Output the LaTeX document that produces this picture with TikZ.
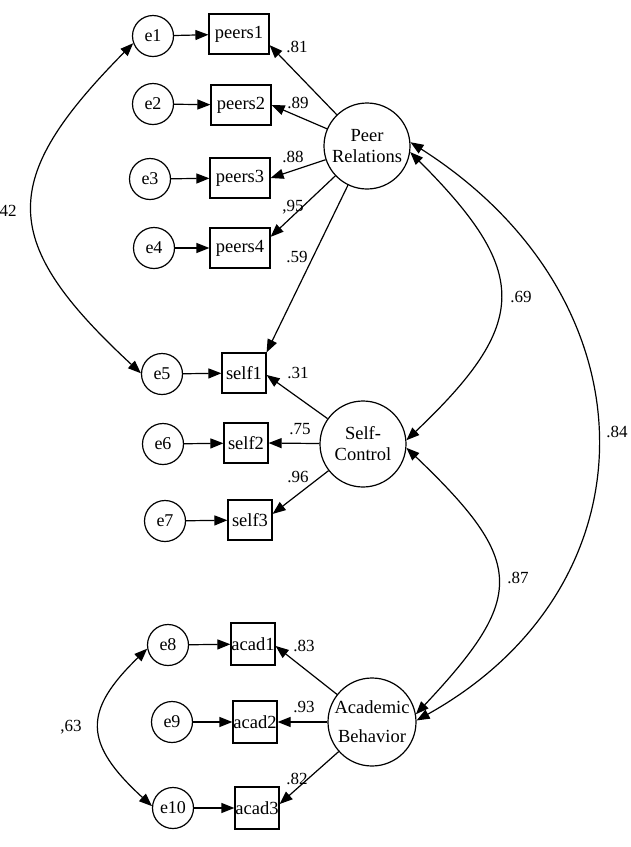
\documentclass[tikz,border=0pt]{standalone}
\usepackage{fontspec}
\setmainfont{Liberation Serif}
\usetikzlibrary{arrows.meta}
\begin{document}
\begin{tikzpicture}[x=1pt,y=-1pt,
  every node/.style={inner sep=0pt},
  err/.style={draw,circle,minimum size=41pt,line width=1.2pt,font=\fontsize{18}{21}\selectfont},
  obs/.style={draw,rectangle,minimum height=40pt,line width=1.2pt,font=\fontsize{18.5}{21}\selectfont},
  lat/.style={draw,circle,minimum size=86pt,line width=1.2pt,align=center,font=\fontsize{18.5}{21}\selectfont},
  lbl/.style={font=\fontsize{17}{20}\selectfont},
  arr/.style={line width=1.2pt,-{Triangle[length=13pt,width=10pt]}},
  cov/.style={line width=1.2pt,{Triangle[length=13pt,width=10pt]}-{Triangle[length=13pt,width=10pt]}}
]
\useasboundingbox[fill=white] (0,0) rectangle (631,847);

% Peer relations block
\node[err] (e1) at (153,36) {e1};
\node[obs,minimum width=60pt] (p1) at (239,34) {peers1};
\node[err] (e2) at (153,104) {e2};
\node[obs,minimum width=60pt] (p2) at (241,105) {peers2};
\node[err] (e3) at (150,179) {e3};
\node[obs,minimum width=60pt] (p3) at (240,178) {peers3};
\node[err] (e4) at (154,248) {e4};
\node[obs,minimum width=60pt] (p4) at (240,248) {peers4};
\node[lat] (PR) at (367,146) {Peer\\Relations};

% Self-control block
\node[err] (e5) at (162,374) {e5};
\node[obs,minimum width=44pt] (s1) at (244,373) {self1};
\node[err] (e6) at (163,444) {e6};
\node[obs,minimum width=44pt] (s2) at (246,443) {self2};
\node[err] (e7) at (165,521) {e7};
\node[obs,minimum width=44pt] (s3) at (250,520) {self3};
\node[lat] (SC) at (363,444) {Self-\\Control};

% Academic block
\node[err] (e8) at (168,645) {e8};
\node[obs,minimum width=44pt,minimum height=42pt] (a1) at (253,644) {acad1};
\node[err] (e9) at (172,722) {e9};
\node[obs,minimum width=44pt,minimum height=42pt] (a2) at (255,722) {acad2};
\node[err] (e10) at (173,808) {e10};
\node[obs,minimum width=44pt,minimum height=42pt] (a3) at (257,808) {acad3};
\node[lat,minimum size=88pt] (AB) at (372,722) {Academic\\[8pt]Behavior};

% error arrows
\draw[arr] (e1) -- (p1);
\draw[arr] (e2) -- (p2);
\draw[arr] (e3) -- (p3);
\draw[arr] (e4) -- (p4);
\draw[arr] (e5) -- (s1);
\draw[arr] (e6) -- (s2);
\draw[arr] (e7) -- (s3);
\draw[arr] (e8) -- (a1);
\draw[arr] (e9) -- (a2);
\draw[arr] (e10) -- (a3);

% loadings
\draw[arr] (PR) -- (p1.-20);
\draw[arr] (PR) -- (p2.east);
\draw[arr] (PR) -- (p3.east);
\draw[arr] (PR) -- (p4.20);
\draw[arr] (PR) -- (s1.north east);
\draw[arr] (SC) -- (s1.-5);
\draw[arr] (SC) -- (s2.east);
\draw[arr] (SC) -- (s3.15);
\draw[arr] (AB) -- (a1.-5);
\draw[arr] (AB) -- (a2.east);
\draw[arr] (AB) -- (a3.10);

% covariances
\draw[cov] (e1.200) .. controls (-2,180) and (-2,241) .. (e5.178);
\draw[cov] (e8.190) .. controls (83,711) and (83,743) .. (e10.175);
\draw[cov] (PR.-8) .. controls (530,272) and (530,323) .. (SC.5);
\draw[cov] (PR.5) .. controls (658,300) and (658,586) .. (AB.2);
\draw[cov] (SC.-5) .. controls (526,562) and (526,597) .. (AB.10);

% labels
\node[lbl] (l81) at (297,47) {.81};
\node[lbl] (l89) at (298,103) {.89};
\node[lbl] (l88) at (293,157) {.88};
\node[lbl] (l95) at (293,207) {,95};
\node[lbl] (l59) at (297,257) {.59};
\node[lbl] (l31) at (298,373) {.31};
\node[lbl] (l75) at (300,429) {.75};
\node[lbl] (l96) at (298,477) {.96};
\node[lbl] (l69) at (521,297) {.69};
\node[lbl] (l84) at (617,432) {.84};
\node[lbl] (l87) at (518,578) {.87};
\node[lbl] (l83) at (304,646) {.83};
\node[lbl] (l93) at (304,707) {.93};
\node[lbl] (l82) at (297,779) {.82};
\node[lbl] (l63) at (71,727) {,63};
\node[lbl] (l42) at (8,211) {42};
\end{tikzpicture}
\end{document}
